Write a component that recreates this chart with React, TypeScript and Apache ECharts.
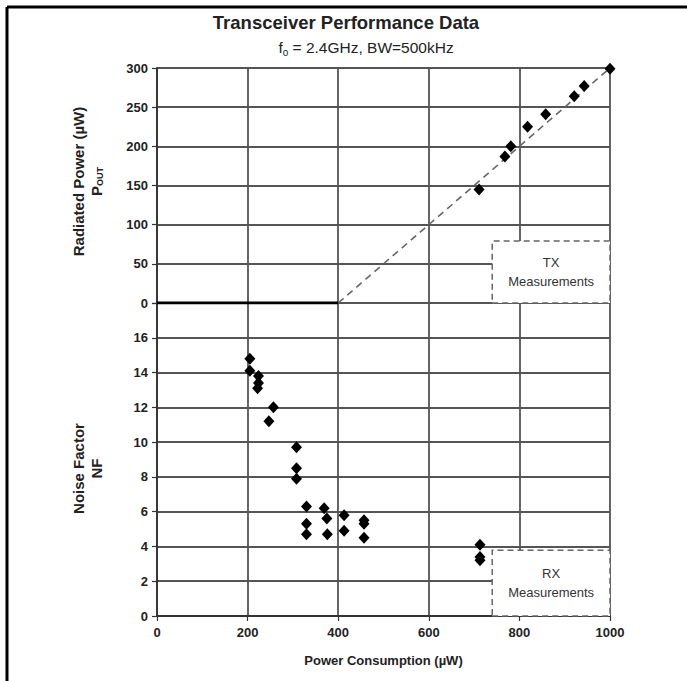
import React, { useEffect, useRef } from "react";
import * as echarts from "echarts";

const xTicks = [0, 200, 400, 600, 800, 1000];

// TX measurements: [power consumption µW, radiated power µW]
const txPoints: [number, number][] = [
  [711, 145],
  [768, 187],
  [781, 200],
  [818, 225],
  [858, 241],
  [921, 264],
  [943, 277],
  [1000, 299],
];

// Radiated power model: zero up to 400 µW, then linear
const poutZero: [number, number][] = [
  [0, 0],
  [400, 0],
];
const poutLinear: [number, number][] = [
  [400, 0],
  [1000, 300],
];

// RX measurements: [power consumption µW, noise factor]
const rxPoints: [number, number][] = [
  [205, 14.8],
  [205, 14.1],
  [224, 13.8],
  [224, 13.4],
  [222, 13.1],
  [257, 12.0],
  [247, 11.2],
  [308, 9.7],
  [308, 8.5],
  [308, 7.9],
  [330, 6.3],
  [330, 5.3],
  [330, 4.7],
  [369, 6.2],
  [375, 5.6],
  [376, 4.7],
  [413, 5.8],
  [413, 4.9],
  [457, 5.5],
  [457, 5.3],
  [457, 4.5],
  [713, 4.1],
  [713, 3.4],
  [713, 3.2],
];

const txBox: [[number, number], [number, number]] = [
  [740, 0],
  [1000, 79],
];
const rxBox: [[number, number], [number, number]] = [
  [740, 0],
  [1000, 3.78],
];

const FONT = "'Liberation Sans', Arial, sans-serif";
const GRID_COLOR = "#555555";

export default function App() {
  const ref = useRef<HTMLDivElement>(null);

  useEffect(() => {
    document.body.style.margin = "0";
    if (!ref.current) return;
    const chart = echarts.init(ref.current, undefined, { renderer: "svg" });

    const tickLabel = {
      fontFamily: FONT,
      fontSize: 13,
      fontWeight: "bold" as const,
      color: "#222",
    };
    const splitLine = { show: true, lineStyle: { color: GRID_COLOR, width: 1.8 } };
    const axisLine = { show: true, lineStyle: { color: "#333", width: 1.8 } };
    const axisTick = { show: true, length: 5, lineStyle: { color: "#333", width: 1.2 } };

    const boxStyle = {
      color: "#ffffff",
      opacity: 1,
      borderColor: "#666",
      borderWidth: 1.5,
      borderType: [6, 4] as number[],
    };
    const boxLabel = (txt: string) => ({
      show: true,
      position: "inside" as const,
      formatter: txt,
      color: "#333",
      fontFamily: FONT,
      fontSize: 13,
      lineHeight: 19,
      align: "center" as const,
    });

    const nameStyle = {
      fontFamily: FONT,
      fontSize: 15,
      fontWeight: "bold" as const,
      color: "#222",
      lineHeight: 18,
    };

    chart.setOption({
      animation: false,
      backgroundColor: "#ffffff",
      title: [
        {
          text: "Transceiver Performance Data",
          left: 341,
          top: 8,
          textAlign: "center",
          textStyle: {
            fontFamily: FONT,
            fontSize: 18.5,
            fontWeight: "bold",
            color: "#222",
          },
        },
        {
          text: "{f|f}{sub|o}{t| = 2.4GHz, BW=500kHz}",
          left: 361,
          top: 33,
          textAlign: "center",
          textStyle: {
            fontWeight: "normal",
            rich: {
              f: { fontFamily: FONT, fontSize: 15.5, fontWeight: "normal", color: "#222" },
              sub: {
                fontFamily: FONT,
                fontSize: 10,
                fontWeight: "normal",
                color: "#222",
                verticalAlign: "bottom",
                padding: [9, 0, 0, 0],
              },
              t: { fontFamily: FONT, fontSize: 15.5, fontWeight: "normal", color: "#222" },
            },
          },
        },
      ],
      graphic: [
        {
          type: "line",
          shape: { x1: 7, y1: 7, x2: 687, y2: 7 },
          style: { stroke: "#000", lineWidth: 3 },
          silent: true,
        },
        {
          type: "line",
          shape: { x1: 7, y1: 7, x2: 7, y2: 681 },
          style: { stroke: "#000", lineWidth: 3 },
          silent: true,
        },
      ],
      grid: [
        { left: 157, top: 68, width: 453, height: 235 },
        { left: 157, top: 303, width: 453, height: 313 },
      ],
      xAxis: [
        {
          type: "value",
          gridIndex: 0,
          min: xTicks[0],
          max: xTicks[xTicks.length - 1],
          interval: 200,
          axisLabel: { show: false },
          axisTick: { show: false },
          axisLine: { show: false },
          splitLine,
        },
        {
          type: "value",
          gridIndex: 1,
          min: xTicks[0],
          max: xTicks[xTicks.length - 1],
          interval: 200,
          axisLabel: { ...tickLabel, margin: 10, formatter: (v: number) => String(v) },
          axisTick,
          axisLine,
          splitLine,
          name: "Power Consumption (µW)",
          nameLocation: "middle",
          nameGap: 38,
          nameTextStyle: {
            fontFamily: FONT,
            fontSize: 13,
            fontWeight: "bold",
            color: "#222",
          },
        },
      ],
      yAxis: [
        {
          type: "value",
          gridIndex: 0,
          min: 0,
          max: 300,
          interval: 50,
          axisLabel: { ...tickLabel, margin: 9 },
          axisTick,
          axisLine,
          splitLine,
          name: "{a|Radiated Power (µW)}\n{b|P}{s|OUT}",
          nameLocation: "middle",
          nameRotate: 90,
          nameGap: 52,
          nameTextStyle: {
            align: "center",
            lineHeight: 18,
            padding: [0, 0, 0, 8],
            rich: {
              a: { ...nameStyle },
              b: { ...nameStyle },
              s: {
                fontFamily: FONT,
                fontSize: 9,
                fontWeight: "bold",
                color: "#222",
                lineHeight: 18,
                padding: [7, 0, 0, 0],
              },
            },
          },
        },
        {
          type: "value",
          gridIndex: 1,
          min: 0,
          max: 18,
          interval: 2,
          axisLabel: {
            ...tickLabel,
            margin: 9,
            formatter: (v: number) => (v >= 18 ? "" : String(v)),
          },
          axisTick,
          axisLine,
          splitLine,
          name: "Noise Factor\nNF",
          nameLocation: "middle",
          nameRotate: 90,
          nameGap: 52,
          nameTextStyle: {
            ...nameStyle,
            align: "center",
            padding: [0, 18, 0, 0],
          },
        },
      ],
      series: [
        {
          name: "TX",
          type: "scatter",
          xAxisIndex: 0,
          yAxisIndex: 0,
          symbol: "diamond",
          symbolSize: [11, 12],
          itemStyle: { color: "#000", opacity: 1 },
          data: txPoints,
          z: 5,
          markArea: {
            silent: true,
            itemStyle: boxStyle,
            label: boxLabel("TX\nMeasurements"),
            data: [[{ coord: txBox[0] }, { coord: txBox[1] }]],
          },
        },
        {
          name: "Pout zero",
          type: "line",
          xAxisIndex: 0,
          yAxisIndex: 0,
          symbol: "none",
          lineStyle: { color: "#000", width: 3 },
          data: poutZero,
          z: 4,
        },
        {
          name: "Pout linear",
          type: "line",
          xAxisIndex: 0,
          yAxisIndex: 0,
          symbol: "none",
          lineStyle: { color: "#666", width: 1.6, type: [7, 5] },
          data: poutLinear,
          z: 4,
        },
        {
          name: "RX",
          type: "scatter",
          xAxisIndex: 1,
          yAxisIndex: 1,
          symbol: "diamond",
          symbolSize: [11, 12],
          itemStyle: { color: "#000", opacity: 1 },
          data: rxPoints,
          z: 5,
          markArea: {
            silent: true,
            itemStyle: boxStyle,
            label: boxLabel("RX\nMeasurements"),
            data: [[{ coord: rxBox[0] }, { coord: rxBox[1] }]],
          },
        },
      ],
    });

    return () => {
      chart.dispose();
    };
  }, []);

  return <div ref={ref} style={{ width: 687, height: 681 }} />;
}
